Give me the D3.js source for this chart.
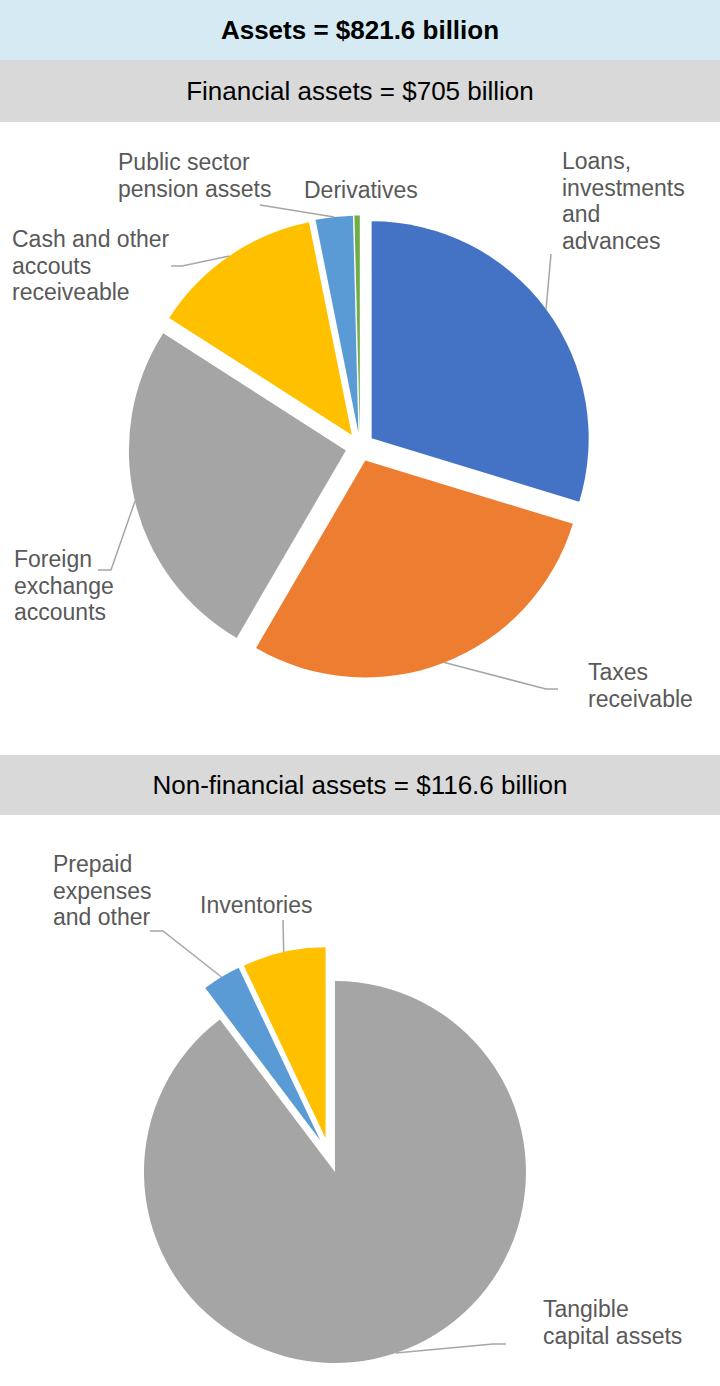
<!DOCTYPE html>
<html>
<head>
<meta charset="utf-8">
<script src="https://cdn.jsdelivr.net/npm/d3@7"></script>
<style>
  html, body { margin: 0; padding: 0; background: #fff; }
  svg { display: block; font-family: "Liberation Sans", Arial, sans-serif; }
</style>
</head>
<body>
<svg id="chart" width="720" height="1386"></svg>
<script>
// ---- Data ----
const titleText = "Assets = $821.6 billion";
const finTitle = "Financial assets = $705 billion";
const nonFinTitle = "Non-financial assets = $116.6 billion";

const finCategories = ["Loans, investments and advances", "Taxes receivable", "Foreign exchange accounts",
  "Cash and other accouts receiveable", "Public sector pension assets", "Derivatives"];
const finValues = [209.5, 202.2, 181.0, 90.0, 19.5, 2.8];
const finColors = ["#4472C4", "#ED7D31", "#A5A5A5", "#FFC000", "#5B9BD5", "#70AD47"];
const finLabelLines = [["Loans,", "investments", "and", "advances"], ["Taxes", "receivable"],
  ["Foreign", "exchange", "accounts"], ["Cash and other", "accouts", "receiveable"],
  ["Public sector", "pension assets"], ["Derivatives"]];

const nonFinCategories = ["Tangible capital assets", "Prepaid expenses and other", "Inventories"];
const nonFinValues = [104.6, 3.8, 8.2];
const nonFinColors = ["#A5A5A5", "#5B9BD5", "#FFC000"];
const nonFinLabelLines = [["Tangible", "capital assets"], ["Prepaid", "expenses", "and other"], ["Inventories"]];

// ---- Layout (label placement / leader elbows) ----
const finLayout = {
  cx: 360, cy: 447, r: 217, explode: 14.5,
  labels: [
    { x: 562, y: 161, leader: [[551, 254]] },
    { x: 588, y: 672, leader: [[546, 689], [558, 689]] },
    { x: 14, y: 559, leader: [[111, 570], [98, 570]] },
    { x: 12, y: 239, leader: [[182, 266], [171, 266]] },
    { x: 118, y: 162, leader: [[260, 205]] },
    { x: 304, y: 190, leader: null }
  ]
};
const nonFinLayout = {
  cx: 329.4, cy: 1155.4, r: 191, explode: 17.5,
  labels: [
    { x: 543, y: 1309, leader: [[493, 1344], [506, 1344]] },
    { x: 53, y: 864, leader: [[163, 931], [150, 931]] },
    { x: 200, y: 905, leader: [[283, 920]] }
  ]
};

const svg = d3.select("#chart");

// ---- Header bands ----
const bands = [
  { y: 0, h: 60, fill: "#D6EAF3", text: titleText, bold: true },
  { y: 60, h: 62, fill: "#D9D9D9", text: finTitle, bold: false },
  { y: 755, h: 60, fill: "#D9D9D9", text: nonFinTitle, bold: false }
];
svg.selectAll("rect.band").data(bands).join("rect")
  .attr("class", "band")
  .attr("x", 0).attr("width", 720)
  .attr("y", d => d.y).attr("height", d => d.h)
  .attr("fill", d => d.fill);
svg.selectAll("text.band").data(bands).join("text")
  .attr("class", "band")
  .attr("x", 360).attr("y", d => d.y + d.h / 2 + 9)
  .attr("text-anchor", "middle")
  .attr("font-size", 26)
  .attr("font-weight", d => d.bold ? "bold" : "normal")
  .attr("fill", "#000")
  .text(d => d.text);

// ---- Pie drawing ----
function drawPie(categories, values, colors, labelLines, layout) {
  const data = categories.map((c, i) => ({ name: c, value: values[i], color: colors[i], lines: labelLines[i], lab: layout.labels[i] }));
  const pie = d3.pie().sort(null).value(d => d.value).startAngle(0).endAngle(2 * Math.PI);
  const arcs = pie(data);
  const arc = d3.arc().innerRadius(0).outerRadius(layout.r);
  const g = svg.append("g").attr("transform", `translate(${layout.cx},${layout.cy})`);

  const off = a => {
    const m = (a.startAngle + a.endAngle) / 2;
    return [Math.sin(m) * layout.explode, -Math.cos(m) * layout.explode];
  };

  g.selectAll("path.slice").data(arcs).join("path")
    .attr("class", "slice")
    .attr("transform", a => { const o = off(a); return `translate(${o[0]},${o[1]})`; })
    .attr("d", arc)
    .attr("fill", a => a.data.color);

  // leader lines
  const line = d3.line();
  arcs.forEach(a => {
    const lab = a.data.lab;
    if (!lab.leader) return;
    const o = off(a);
    const m = (a.startAngle + a.endAngle) / 2;
    const start = [layout.cx + o[0] + Math.sin(m) * layout.r, layout.cy + o[1] - Math.cos(m) * layout.r];
    svg.append("path")
      .attr("d", line([start, ...lab.leader]))
      .attr("fill", "none")
      .attr("stroke", "#A6A6A6")
      .attr("stroke-width", 1.5);
  });

  // labels
  arcs.forEach(a => {
    const lab = a.data.lab;
    const t = svg.append("text")
      .attr("font-size", 23)
      .attr("fill", "#595959");
    a.data.lines.forEach((ln, i) => {
      t.append("tspan").attr("x", lab.x).attr("y", lab.y + 8 + i * 26.6).text(ln);
    });
  });
}

drawPie(finCategories, finValues, finColors, finLabelLines, finLayout);
drawPie(nonFinCategories, nonFinValues, nonFinColors, nonFinLabelLines, nonFinLayout);
</script>
</body>
</html>
